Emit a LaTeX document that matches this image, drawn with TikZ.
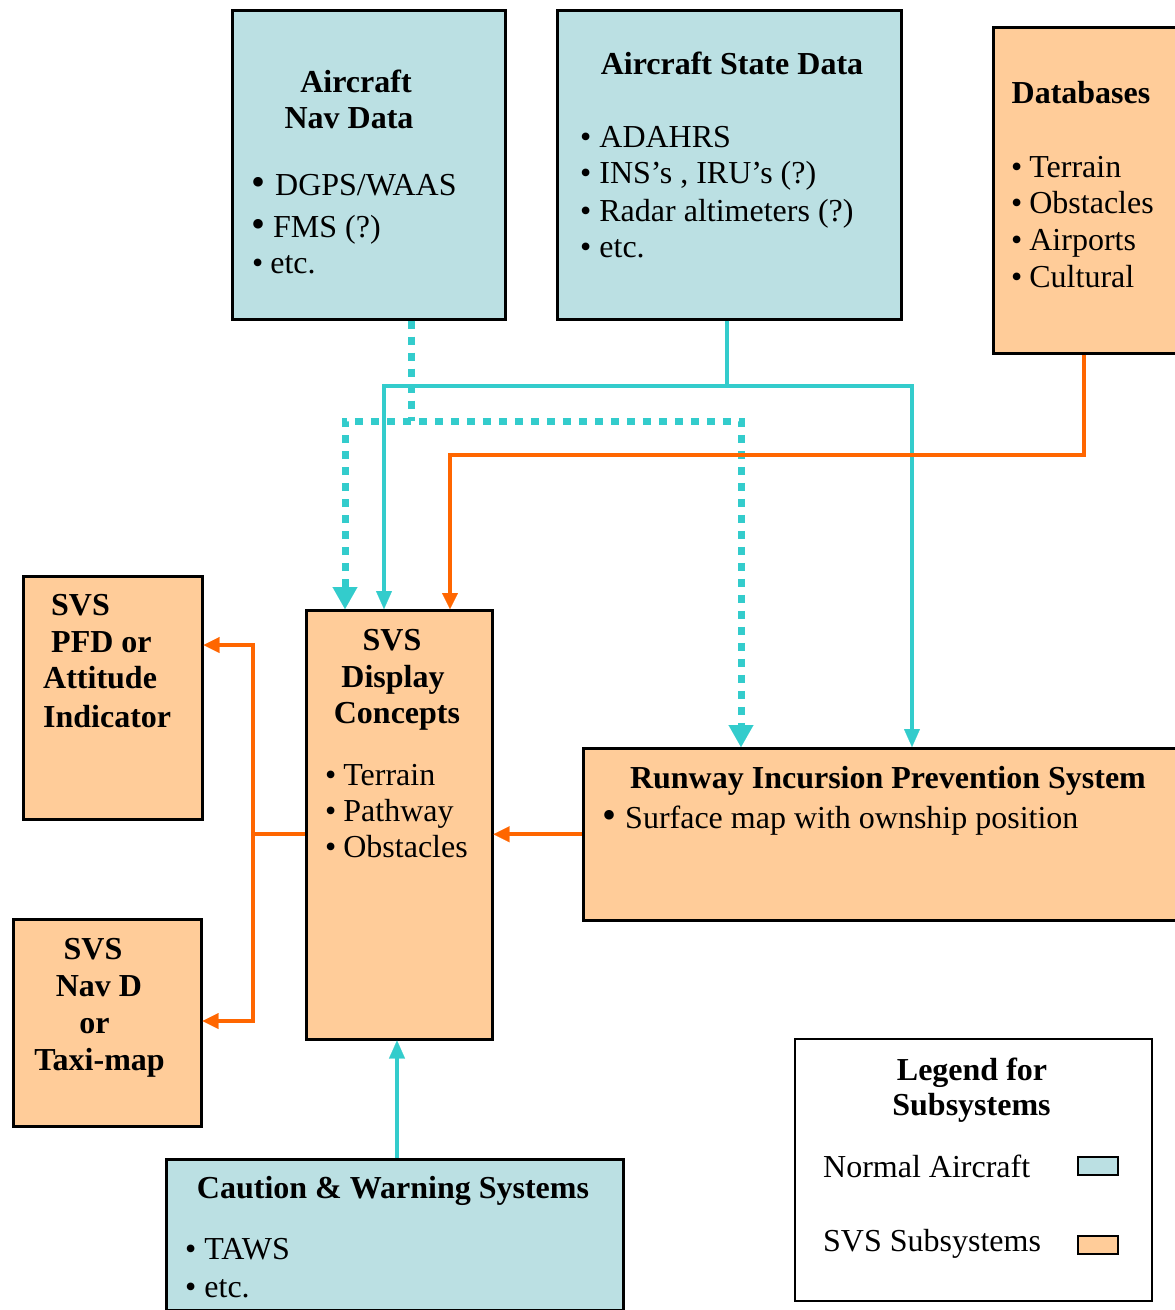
\documentclass[tikz,border=0pt]{standalone}
\usepackage{fontspec}
\setmainfont{Liberation Serif}
\usetikzlibrary{arrows.meta}
\definecolor{boxblue}{HTML}{BBE0E3}
\definecolor{boxorange}{HTML}{FFCC99}
\definecolor{lcyan}{HTML}{33CCCC}
\definecolor{lorange}{HTML}{FF6600}
\newcommand{\bigbul}{{\fontsize{40}{40}\selectfont •}}
\begin{document}
\begin{tikzpicture}[x=1pt,y=-1pt,
  bluebox/.style={draw=black, line width=2.5pt, fill=boxblue, inner sep=0pt, anchor=north west},
  orangebox/.style={draw=black, line width=2.5pt, fill=boxorange, inner sep=0pt, anchor=north west},
  tx/.style={font=\fontsize{32}{38}\selectfont, inner sep=0pt, anchor=base west},
  btx/.style={font=\fontsize{32}{38}\selectfont\bfseries, inner sep=0pt, anchor=base west},
  ttl/.style={font=\fontsize{32}{38}\selectfont\bfseries, inner sep=0pt, anchor=base},
  cline/.style={draw=lcyan, line width=4pt},
  oline/.style={draw=lorange, line width=4pt},
  dline/.style={draw=lcyan, line width=7pt, dash pattern=on 8pt off 8pt},
  ctipend/.style={-{Triangle[width=16pt,length=18pt,line width=0.1pt]}},
  ctipboth/.style={{Triangle[width=16pt,length=18pt,line width=0.1pt]}-{Triangle[width=16pt,length=18pt,line width=0.1pt]}},
  dtipboth/.style={{Triangle[width=25pt,length=22pt,line width=0.1pt]}-{Triangle[width=25pt,length=22pt,line width=0.1pt]}},
  otipend/.style={-{Triangle[width=16pt,length=16pt,line width=0.1pt]}},
  otipboth/.style={{Triangle[width=16pt,length=16pt,line width=0.1pt]}-{Triangle[width=16pt,length=16pt,line width=0.1pt]}}
]
\clip (0,0) rectangle (1175,1310);
\fill[white] (0,0) rectangle (1175,1310);

% ---------- boxes ----------
\node[bluebox, minimum width=273pt, minimum height=309pt] (nav) at (231,9) {};
\node[bluebox, minimum width=344pt, minimum height=309pt] (state) at (556,9) {};
\node[orangebox, minimum width=192pt, minimum height=326pt] (db) at (992,26) {};
\node[orangebox, minimum width=179pt, minimum height=243pt] (pfd) at (22,575) {};
\node[orangebox, minimum width=186pt, minimum height=429pt] (svs) at (305,609) {};
\node[orangebox, minimum width=602pt, minimum height=172pt] (rips) at (582,747) {};
\node[orangebox, minimum width=188pt, minimum height=207pt] (navd) at (12,918) {};
\node[bluebox, minimum width=457pt, minimum height=151pt] (cws) at (165,1158) {};
\node[draw=black, line width=2pt, fill=white, inner sep=0pt, anchor=north west, minimum width=357pt, minimum height=262pt] (legend) at (794,1038) {};
\node[bluebox, line width=2pt, minimum width=40pt, minimum height=18pt] (swblue) at (1077,1156) {};
\node[orangebox, line width=2pt, minimum width=40pt, minimum height=18pt] (sworange) at (1077,1235) {};

% ---------- texts ----------
\node[ttl] (navt1) at (356,92) {Aircraft};
\node[ttl] (navt2) at (349,128) {Nav Data};
\node[tx] (navb1) at (251,195) {\bigbul\hspace{10pt}DGPS/WAAS};
\node[tx] (navb2) at (251,237) {\bigbul\hspace{8pt}FMS (?)};
\node[tx] (navb3) at (252,273) {•\hspace{7pt}etc.};

\node[ttl] (stt) at (732,74) {Aircraft State Data};
\node[tx] (stb1) at (580,147) {•\hspace{8pt}ADAHRS};
\node[tx] (stb2) at (580,183) {•\hspace{8pt}INS’s , IRU’s (?)};
\node[tx] (stb3) at (580,221) {•\hspace{8pt}Radar altimeters (?)};
\node[tx] (stb4) at (580,257) {•\hspace{8pt}etc.};

\node[ttl] (dbt) at (1081,103) {Databases};
\node[tx] (dbb1) at (1011,177) {•\hspace{7pt}Terrain};
\node[tx] (dbb2) at (1011,213) {•\hspace{7pt}Obstacles};
\node[tx] (dbb3) at (1011,250) {•\hspace{7pt}Airports};
\node[tx] (dbb4) at (1011,287) {•\hspace{7pt}Cultural};

\node[btx] (pfdt1) at (51,615) {SVS};
\node[btx] (pfdt2) at (51,652) {PFD or};
\node[btx] (pfdt3) at (43,688) {Attitude};
\node[btx] (pfdt4) at (43,727) {Indicator};

\node[ttl] (svst1) at (392,650) {SVS};
\node[ttl] (svst2) at (393,687) {Display};
\node[ttl] (svst3) at (397,723) {Concepts};
\node[tx] (svsb1) at (325,785) {•\hspace{7pt}Terrain};
\node[tx] (svsb2) at (325,821) {•\hspace{7pt}Pathway};
\node[tx] (svsb3) at (325,857) {•\hspace{7pt}Obstacles};

\node[ttl] (ript) at (888,788) {Runway Incursion Prevention System};
\node[tx] (ripb1) at (602,828) {\bigbul\hspace{9pt}Surface map with ownship position};

\node[ttl] (navdt1) at (93,959) {SVS};
\node[ttl] (navdt2) at (99,996) {Nav D};
\node[ttl] (navdt3) at (94.5,1033) {or};
\node[ttl] (navdt4) at (99.5,1070) {Taxi-map};

\node[ttl] (cwst) at (393,1198) {Caution \& Warning Systems};
\node[tx] (cwsb1) at (185,1259) {•\hspace{8pt}TAWS};
\node[tx] (cwsb2) at (185,1297) {•\hspace{8pt}etc.};

\node[ttl] (legt1) at (972,1080) {Legend for};
\node[ttl] (legt2) at (971.5,1115) {Subsystems};
\node[tx] (legb1) at (823,1177) {Normal Aircraft};
\node[tx] (legb2) at (823,1251) {SVS Subsystems};

% ---------- connector points ----------
\path (nav.south west) ++(180,0) coordinate (navout);
\path (state.south west) ++(171,0) coordinate (stateout);
\path (db.south west) ++(92,0) coordinate (dbout);
\path (svs.north west) ++(40,0) coordinate (svsA) ++(39,0) coordinate (svsB) ++(66,0) coordinate (svsC);
\path (rips.north west) ++(159,0) coordinate (ripsA) ++(171,0) coordinate (ripsB);
\path (pfd.north east) ++(0,70) coordinate (pfdin);
\path (navd.north east) ++(0,103) coordinate (navdin);
\path (cws.north west) ++(232,0) coordinate (cwsout);
\coordinate (dbus) at (0,421);
\coordinate (sbus) at (0,386);
\coordinate (obus) at (0,455);
\coordinate (lbus) at (253,0);

% ---------- connectors ----------
\draw[dline] (navout) -- (navout |- dbus);
\draw[dline, dtipboth] (svsA) -- (svsA |- dbus) -- (ripsA |- dbus) -- (ripsA);

\draw[cline] (stateout) -- (stateout |- sbus);
\draw[cline, ctipboth] (svsB) -- (svsB |- sbus) -- (ripsB |- sbus) -- (ripsB);

\draw[oline, otipend] (dbout) -- (dbout |- obus) -- (svsC |- obus) -- (svsC);

\draw[oline, otipend] (rips.west) -- (rips.west -| svs.east);
\draw[oline] (svs.west |- rips.west) -- (lbus |- rips.west);
\draw[oline, otipboth] (pfdin) -- (pfdin -| lbus) -- (navdin -| lbus) -- (navdin);

\draw[cline, ctipend] (cwsout) -- (cwsout |- svs.south);
\end{tikzpicture}
\end{document}
